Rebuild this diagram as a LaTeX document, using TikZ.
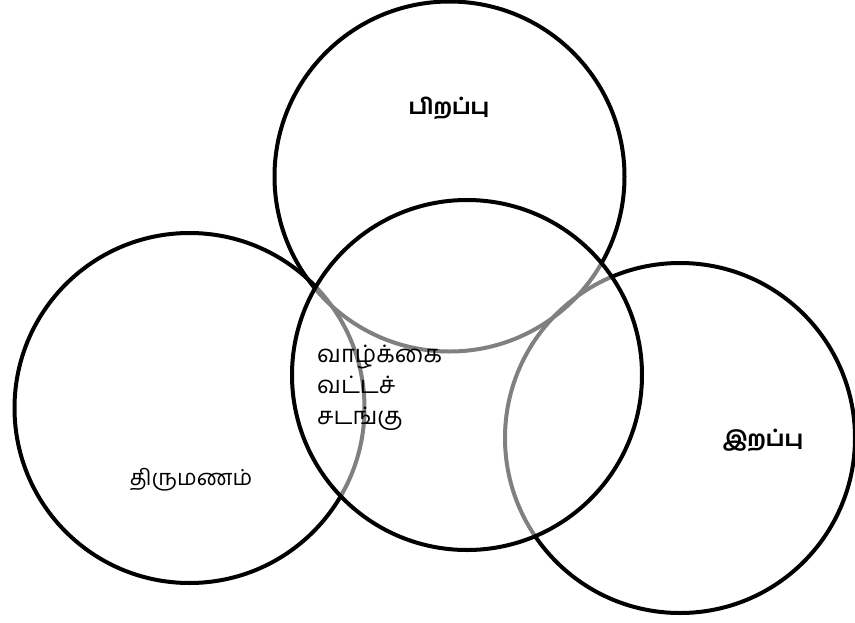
\documentclass[tikz,border=0pt]{standalone}
\usepackage{fontspec}
\newfontfamily\tamil[Script=Tamil]{Hind Madurai}
\newfontfamily\tamilbold[Script=Tamil]{Hind Madurai Bold}
\begin{document}
\begin{tikzpicture}[x=1pt,y=-1pt,
  ring/.style={circle,draw=black,line width=4pt,minimum size=350pt,inner sep=0pt},
  lbl/.style={font=\tamil\fontsize{22}{30}\selectfont,inner sep=0pt},
  blbl/.style={font=\tamilbold\fontsize{21.5}{30}\selectfont,inner sep=0pt}]
\useasboundingbox (0,0) rectangle (855,622);
\node[ring] (top) at (449.5,176.5) {};
\node[ring] (left) at (189.5,408) {};
\node[ring] (right) at (680,438) {};
\node[ring,fill=white,fill opacity=0.5] (mid) at (467,375) {};
\node[blbl] (birth) at (449,108) {பிறப்பு};
\node[blbl] (death) at (763,440) {இறப்பு};
\node[lbl] (marriage) at (191,480) {திருமணம்};
\node[lbl,anchor=north west,align=left,font=\tamil\fontsize{24}{31}\selectfont] (life) at (317,345) {வாழ்க்கை\\வட்டச்\\சடங்கு};
\end{tikzpicture}
\end{document}
